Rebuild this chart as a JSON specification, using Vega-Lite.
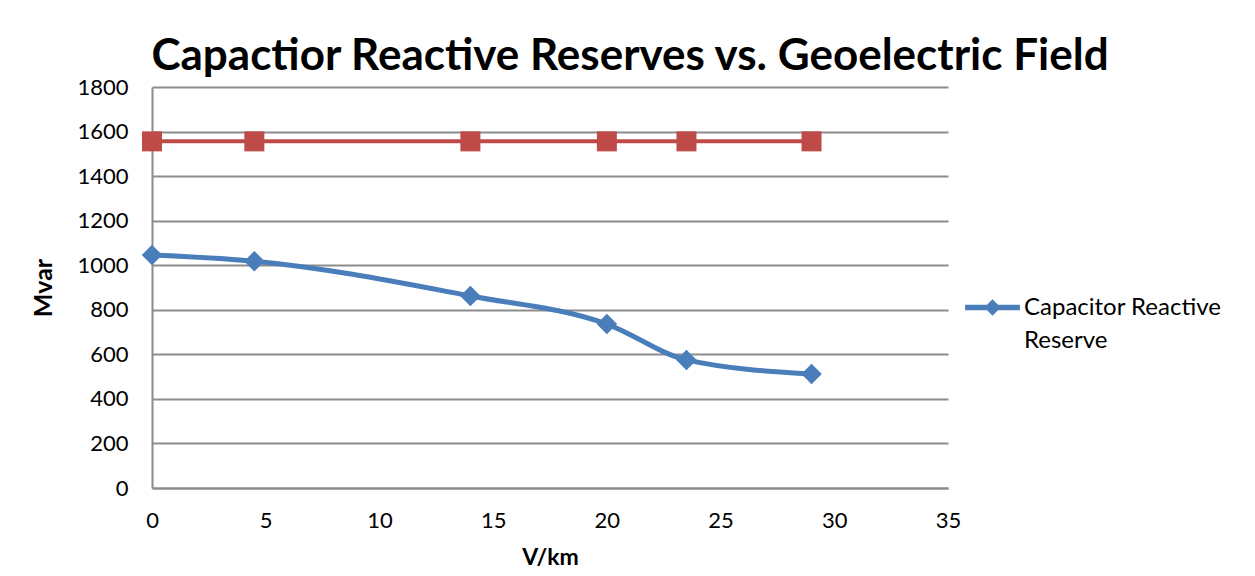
{
  "$schema": "https://vega.github.io/schema/vega-lite/v6.json",
  "autosize": {"type": "none"},
  "padding": {"left": 152, "top": 87, "right": 307, "bottom": 88},
  "width": 796,
  "height": 401,
  "background": "white",
  "title": {
    "text": "Capactior Reactive Reserves vs. Geoelectric Field",
    "font": "Lato",
    "fontSize": 44,
    "fontWeight": "bold",
    "color": "#000000",
    "anchor": "middle",
    "dx": 80,
    "dy": 15,
    "offset": 12
  },
  "datasets": {
    "reserve": [
      {"field": 0, "mvar": 1046},
      {"field": 4.5, "mvar": 1018},
      {"field": 14, "mvar": 862},
      {"field": 20, "mvar": 736},
      {"field": 23.5, "mvar": 575},
      {"field": 29, "mvar": 512}
    ],
    "other": [
      {"field": 0, "mvar": 1556},
      {"field": 4.5, "mvar": 1556},
      {"field": 14, "mvar": 1556},
      {"field": 20, "mvar": 1556},
      {"field": 23.5, "mvar": 1556},
      {"field": 29, "mvar": 1556}
    ]
  },
  "config": {
    "view": {"stroke": null},
    "style": {"guide-label": {"lineHeight": 33}},
    "axis": {
      "labelFont": "Lato",
      "labelFontSize": 22,
      "labelColor": "#000000",
      "labelFlush": false,
      "titleFont": "Lato",
      "titleFontWeight": "bold",
      "titleColor": "#000000",
      "domainColor": "#8c8c8c",
      "domainWidth": 2,
      "gridColor": "#8c8c8c",
      "gridWidth": 2,
      "ticks": false
    }
  },
  "encoding": {
    "x": {
      "field": "field",
      "type": "quantitative",
      "scale": {"domain": [0, 35], "nice": false},
      "axis": {"title": "V/km", "titleFontSize": 23, "format": "d", "values": [0, 5, 10, 15, 20, 25, 30, 35], "grid": false, "labelPadding": 22, "titlePadding": 15}
    },
    "y": {
      "field": "mvar",
      "type": "quantitative",
      "scale": {"domain": [0, 1800], "nice": false},
      "axis": {"title": "Mvar", "titleFontSize": 25, "format": "d", "values": [0, 200, 400, 600, 800, 1000, 1200, 1400, 1600, 1800], "labelPadding": 24, "titlePadding": 20}
    }
  },
  "layer": [
    {
      "data": {"name": "other"},
      "mark": {"type": "line", "color": "#be4b48", "strokeWidth": 4}
    },
    {
      "data": {"name": "other"},
      "mark": {"type": "point", "shape": "square", "filled": true, "opacity": 1, "color": "#be4b48", "size": 400}
    },
    {
      "data": {"name": "reserve"},
      "mark": {"type": "line", "interpolate": "monotone", "strokeWidth": 5},
      "encoding": {
        "color": {
          "datum": "Capacitor Reactive Reserve",
          "type": "nominal",
          "scale": {"range": ["#4a7ebb"]},
          "legend": {
            "title": null,
            "orient": "none",
            "legendX": 813,
            "legendY": 193,
            "symbolType": "M -1 -0.1 H 1 V 0.1 H -1 Z M 0 -0.3 L 0.3 0 L 0 0.3 L -0.3 0 Z",
            "symbolSize": 3000,
            "symbolStrokeWidth": 0,
            "symbolFillColor": "#4a7ebb",
            "symbolOpacity": 1,
            "labelFont": "Lato",
            "labelFontSize": 24,
            "labelColor": "#000000",
            "labelOffset": 4,
            "labelLimit": 300,
            "labelExpr": "['Capacitor Reactive', 'Reserve']"
          }
        }
      }
    },
    {
      "data": {"name": "reserve"},
      "mark": {"type": "point", "shape": "diamond", "filled": true, "opacity": 1, "color": "#4a7ebb", "size": 420}
    }
  ]
}
